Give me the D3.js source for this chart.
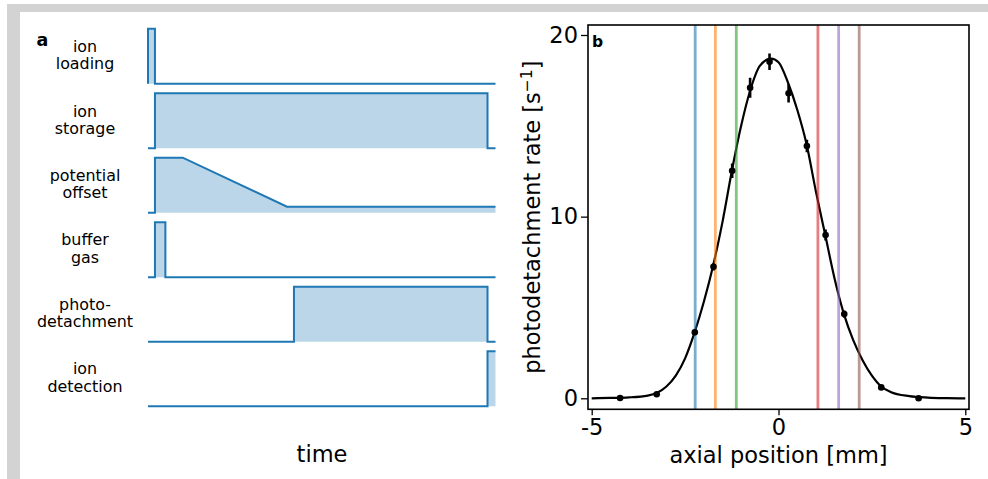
<!DOCTYPE html>
<html>
<head>
<meta charset="utf-8">
<script src="https://cdn.jsdelivr.net/npm/d3@7"></script>
<style>
  html, body { margin: 0; padding: 0; background: #fff; }
  svg { display: block; font-family: "DejaVu Sans", sans-serif; }
</style>
</head>
<body>
<svg id="fig" width="988" height="479"></svg>
<script>
// ---- panel a: experimental sequence (time in arbitrary units, 0..100) ----
const seqLabels = [["ion", "loading"], ["ion", "storage"], ["potential", "offset"],
                   ["buffer", "gas"], ["photo-", "detachment"], ["ion", "detection"]];
const seqTimes = [
  [0, 0, 2, 2, 100],
  [0, 2, 2, 97.7, 97.7, 100],
  [0, 2, 2, 10, 40, 100],
  [0, 2, 2, 5, 5, 100],
  [0, 42, 42, 97.7, 97.7, 100],
  [0, 97.7, 97.7, 100]
];
const seqLevels = [
  [0, 1, 1, 0, 0],
  [0, 0, 1, 1, 0, 0],
  [0, 0, 1, 1, 0.11, 0.11],
  [0, 0, 1, 1, 0, 0],
  [0, 0, 1, 1, 0, 0],
  [0, 0, 1, 1]
];

// ---- panel b: photodetachment rate vs axial position ----
const posMeas = [-4.24, -3.26, -2.24, -1.74, -1.24, -0.76, -0.24, 0.27, 0.76, 1.26, 1.76, 2.75, 3.75];
const rateMeas = [0.02, 0.22, 3.63, 7.24, 12.53, 17.09, 18.53, 16.79, 13.89, 8.99, 4.64, 0.6, 0.0];
const rateErr = [0.1, 0.1, 0.15, 0.2, 0.4, 0.55, 0.45, 0.5, 0.35, 0.3, 0.2, 0.1, 0.05];

const posFit = [-5, -4.5, -4, -3.5, -3.25, -3, -2.75, -2.5, -2.25, -2, -1.75, -1.5, -1.25, -1, -0.75,
                -0.5, -0.2, 0, 0.25, 0.5, 0.75, 1, 1.25, 1.5, 1.75, 2, 2.25, 2.5, 2.75, 3, 3.5, 4, 4.5, 5];
const rateFit = [0.0, 0.02, 0.05, 0.15, 0.3, 0.65, 1.25, 2.2, 3.6, 5.3, 7.3, 9.7, 12.5, 15.0, 17.0,
                 18.3, 18.7, 18.5, 17.4, 15.9, 14.0, 11.4, 9.0, 6.6, 4.65, 3.2, 2.1, 1.25, 0.65, 0.35, 0.12, 0.04, 0.01, 0.0];

const laserPos = [-2.23, -1.69, -1.13, 1.055, 1.61, 2.16];
const laserColors = ["#1f77b4", "#ff7f0e", "#2ca02c", "#d62728", "#9467bd", "#8c564b"];

const xTicks = [-5, 0, 5];
const yTicks = [0, 10, 20];

const svg = d3.select("#fig");
const FONT = "DejaVu Sans, sans-serif";

// frame strips
svg.append("rect").attr("x", 7).attr("y", 4).attr("width", 981).attr("height", 8).attr("fill", "#d3d3d3");
svg.append("rect").attr("x", 7).attr("y", 4).attr("width", 13).attr("height", 475).attr("fill", "#d3d3d3");

// ===== panel a =====
const tScale = d3.scaleLinear().domain([0, 100]).range([148, 495.5]);
const rowBand = d3.scaleBand().domain(d3.range(seqLabels.length)).range([28.7, 406.2]).paddingInner(0.147);
const blue = "#1f77b4";

const gA = svg.append("g");
seqLabels.forEach((lab, i) => {
  const top = rowBand(i), h = rowBand.bandwidth();
  const lvl = d3.scaleLinear().domain([0, 1]).range([top + h, top]);
  const pts = seqTimes[i].map((t, k) => [t, seqLevels[i][k]]);
  const area = d3.area().x(d => tScale(d[0])).y0(lvl(0)).y1(d => lvl(d[1]));
  const line = d3.line().x(d => tScale(d[0])).y(d => lvl(d[1]));
  gA.append("path").attr("d", area(pts)).attr("fill", blue).attr("fill-opacity", 0.3);
  gA.append("path").attr("d", line(pts)).attr("fill", "none").attr("stroke", blue)
    .attr("stroke-width", 2).attr("stroke-linejoin", "miter");
  const mid = top + h / 2;
  const t = gA.append("text").attr("x", 85).attr("y", mid - 4.2).attr("text-anchor", "middle")
    .attr("font-family", FONT).attr("font-size", 15.9).attr("fill", "#000");
  t.append("tspan").attr("x", 85).text(lab[0]);
  t.append("tspan").attr("x", 85).attr("dy", 17.2).text(lab[1]);
});
gA.append("text").attr("x", 322).attr("y", 461.5).attr("text-anchor", "middle")
  .attr("font-family", FONT).attr("font-size", 22.5).text("time");
svg.append("text").attr("x", 36.5).attr("y", 45.8).attr("font-family", FONT)
  .attr("font-weight", "bold").attr("font-size", 17.5).text("a");

// ===== panel b =====
const box = { left: 588, right: 969, top: 25, bottom: 409.3 };
const x = d3.scaleLinear().domain([-5, 5]).range([591.7, 965.3]);
const y = d3.scaleLinear().domain([0, 20]).range([398.3, 35]);

const gB = svg.append("g");
gB.append("defs").append("clipPath").attr("id", "clipB").append("rect")
  .attr("x", box.left).attr("y", box.top).attr("width", box.right - box.left).attr("height", box.bottom - box.top);

const plot = gB.append("g").attr("clip-path", "url(#clipB)");

// fit curve
plot.append("path")
  .datum(posFit.map((p, i) => [p, rateFit[i]]))
  .attr("d", d3.line().x(d => x(d[0])).y(d => y(d[1])).curve(d3.curveMonotoneX))
  .attr("fill", "none").attr("stroke", "#000").attr("stroke-width", 2.2);

// laser positions
plot.selectAll("line.laser").data(laserPos).join("line").attr("class", "laser")
  .attr("x1", d => x(d)).attr("x2", d => x(d)).attr("y1", box.top).attr("y2", box.bottom)
  .attr("stroke", (d, i) => laserColors[i]).attr("stroke-opacity", 0.6).attr("stroke-width", 2.8);

// measured points with error bars
plot.selectAll("line.err").data(posMeas).join("line").attr("class", "err")
  .attr("x1", d => x(d)).attr("x2", d => x(d))
  .attr("y1", (d, i) => y(rateMeas[i] - rateErr[i])).attr("y2", (d, i) => y(rateMeas[i] + rateErr[i]))
  .attr("stroke", "#000").attr("stroke-width", 2.6);
plot.selectAll("circle.pt").data(posMeas).join("circle").attr("class", "pt")
  .attr("cx", d => x(d)).attr("cy", (d, i) => y(rateMeas[i])).attr("r", 3.3).attr("fill", "#000");

// frame
gB.append("rect").attr("x", box.left).attr("y", box.top).attr("width", box.right - box.left)
  .attr("height", box.bottom - box.top).attr("fill", "none").attr("stroke", "#000").attr("stroke-width", 1.6);

// axes
const xAxis = gB.append("g").attr("transform", `translate(0,${box.bottom})`)
  .call(d3.axisBottom(x).tickValues(xTicks).tickSize(6).tickPadding(4)
    .tickFormat(d => (d < 0 ? "-" + Math.abs(d) : String(d))));
const yAxis = gB.append("g").attr("transform", `translate(${box.left},0)`)
  .call(d3.axisLeft(y).tickValues(yTicks).tickSize(7).tickPadding(3));
[xAxis, yAxis].forEach(a => {
  a.select(".domain").remove();
  a.selectAll(".tick line").attr("stroke", "#000").attr("stroke-width", 1.3);
  a.selectAll(".tick text").attr("font-family", FONT).attr("font-size", 22.5).attr("fill", "#000");
});

gB.append("text").attr("x", (box.left + box.right) / 2).attr("y", 463)
  .attr("text-anchor", "middle").attr("font-family", FONT).attr("font-size", 22.5).text("axial position [mm]");

const yl = gB.append("text").attr("transform", `translate(540,${(box.top + box.bottom) / 2}) rotate(-90)`)
  .attr("text-anchor", "middle").attr("font-family", FONT).attr("font-size", 22.5);
yl.append("tspan").text("photodetachment rate [s");
yl.append("tspan").attr("dy", -8).attr("font-size", 15.5).text("−1");
yl.append("tspan").attr("dy", 8).text("]");

gB.append("text").attr("x", 592).attr("y", 46.5).attr("font-family", FONT)
  .attr("font-weight", "bold").attr("font-size", 15.5).text("b");
</script>
</body>
</html>
